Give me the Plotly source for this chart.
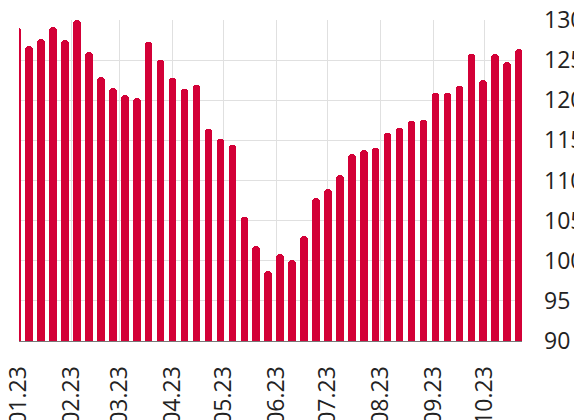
import pandas as pd
import plotly.graph_objects as go

dates = pd.date_range("2022-12-31", periods=43, freq="7D")
values = [129.0, 126.7, 127.6, 129.1, 127.5, 130.0, 126.0, 122.9, 121.5, 120.7,
          120.3, 127.2, 125.0, 122.8, 121.4, 121.9, 116.4, 115.2, 114.4, 105.4,
          101.9, 98.7, 100.8, 100.1, 103.1, 107.8, 108.9, 110.7, 113.3, 113.8,
          114.0, 115.9, 116.6, 117.4, 117.6, 120.9, 120.9, 121.8, 125.8, 122.5,
          125.8, 124.8, 126.4]
y_ticks = [90, 95, 100, 105, 110, 115, 120, 125, 130]

fig = go.Figure()
fig.add_trace(go.Bar(
    x=dates, y=values,
    width=4.4 * 86400000,
    marker=dict(color="#d30037", cornerradius=4, line=dict(width=0)),
))

fig.update_layout(
    width=582, height=420,
    margin=dict(l=11, r=68, t=12, b=87),
    plot_bgcolor="white", paper_bgcolor="white",
    showlegend=False,
    font=dict(family="Open Sans", size=23, color="#222222"),
    bargap=0,
)
fig.update_xaxes(
    type="date", automargin=False,
    range=["2023-01-01", "2023-10-22 17:00"],
    dtick="M1", tick0="2023-01-01",
    tickformat="%m.%y", tickangle=-90,
    showgrid=True, gridcolor="#e0e0e0", gridwidth=1,
    showline=True, linecolor="#777777", linewidth=1,
    ticks="", zeroline=False,
    ticklabelstandoff=15, ticklabeloverflow="allow",
)
fig.update_yaxes(
    range=[90, 130], side="right", automargin=False,
    tickvals=y_ticks,
    showgrid=True, gridcolor="#e0e0e0", gridwidth=1,
    ticks="", zeroline=False, showline=False,
    ticklabelstandoff=21, ticklabeloverflow="allow",
)

fig.write_html("out.html")
